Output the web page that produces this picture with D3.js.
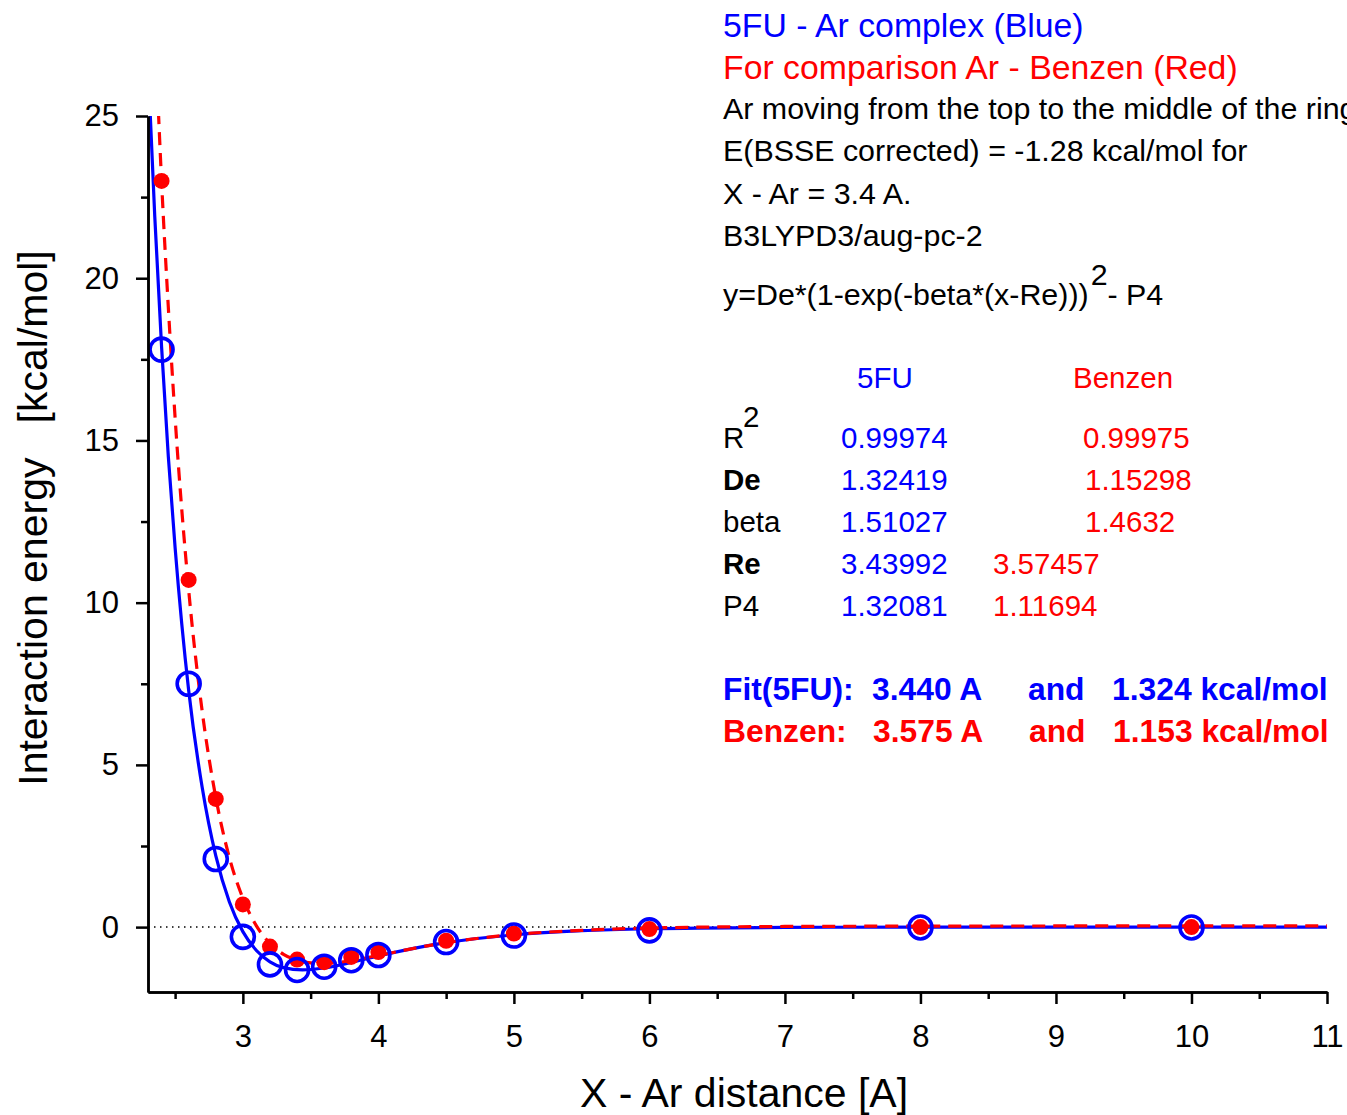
<!DOCTYPE html>
<html>
<head>
<meta charset="utf-8">
<script src="https://cdn.jsdelivr.net/npm/d3@7"></script>
<style>
  body { margin: 0; background: #fff; }
  svg { display: block; font-family: "Liberation Sans", Arial, sans-serif; }
</style>
</head>
<body>
<script>
// Size and margins
const w = 1347;
const h = 1115;
const padding = { top: 116, bottom: 123, right: 20, left: 148 };

// Computed points: 5FU - Ar (blue, open circles)
const distBlue = [2.4, 2.6, 2.8, 3.0, 3.2, 3.4, 3.6, 3.8, 4.0, 4.5, 5.0, 6.0, 8.0, 10.0];
const energyBlue = [17.8, 7.5, 2.1, -0.3, -1.15, -1.32, -1.22, -1.02, -0.86, -0.46, -0.26, -0.1, -0.01, -0.01];

// Computed points: Ar - Benzen (red, filled)
const distRed = [2.4, 2.6, 2.8, 3.0, 3.2, 3.4, 3.6, 3.8, 4.0, 4.5, 5.0, 6.0, 8.0, 10.0];
const energyRed = [23.0, 10.7, 3.95, 0.7, -0.6, -1.0, -1.08, -0.92, -0.77, -0.42, -0.2, -0.06, 0.0, 0.0];

// Fitted curves
const fitDistBlue = [2.3, 2.35, 2.4, 2.45, 2.5, 2.6, 2.7, 2.8, 2.9, 3.0, 3.1, 3.2, 3.3, 3.44, 3.6, 3.8, 4.0, 4.5, 5.0, 5.5, 6.0, 7.0, 8.0, 11.0];
const fitEnergyBlue = [26.6, 21.9, 17.9, 14.5, 11.7, 7.3, 4.3, 2.2, 0.78, -0.14, -0.72, -1.07, -1.25, -1.32, -1.26, -1.09, -0.89, -0.48, -0.24, -0.11, -0.05, -0.01, 0.0, 0.0];
const fitDistRed = [2.37, 2.4, 2.45, 2.5, 2.6, 2.7, 2.8, 2.9, 3.0, 3.1, 3.2, 3.3, 3.4, 3.5, 3.575, 3.7, 3.8, 4.0, 4.5, 5.0, 5.5, 6.0, 7.0, 8.0, 11.0];
const fitEnergyRed = [25.8, 23.0, 19.1, 15.7, 10.4, 6.65, 4.0, 2.15, 0.89, 0.04, -0.5, -0.84, -1.02, -1.1, -1.12, -1.09, -1.03, -0.87, -0.48, -0.23, -0.1, -0.03, 0.02, 0.03, 0.04];

// Tick values
const xMajor = [3, 4, 5, 6, 7, 8, 9, 10, 11];
const xMinor = [2.5, 3.5, 4.5, 5.5, 6.5, 7.5, 8.5, 9.5, 10.5];
const yMajor = [0, 5, 10, 15, 20, 25];
const yMinor = [2.5, 7.5, 12.5, 17.5, 22.5];

const BLUE = "#0000ff";
const RED = "#ff0000";

const svg = d3.select("body").append("svg").attr("width", w).attr("height", h);

const xScale = d3.scaleLinear().domain([2.3, 11]).range([padding.left, w - padding.right]);
const yScale = d3.scaleLinear().domain([-2, 25]).range([h - padding.bottom, padding.top]);

svg.append("defs").append("clipPath").attr("id", "plot-clip")
  .append("rect")
  .attr("x", padding.left)
  .attr("y", padding.top)
  .attr("width", w - padding.right - padding.left)
  .attr("height", h - padding.bottom - padding.top);

// Zero line (dotted)
svg.append("line")
  .attr("x1", xScale(2.3)).attr("x2", xScale(11))
  .attr("y1", yScale(0)).attr("y2", yScale(0))
  .attr("stroke", "#000").attr("stroke-width", 1.5)
  .attr("stroke-dasharray", "1.5,4.5");

const plot = svg.append("g").attr("clip-path", "url(#plot-clip)");

const line = d3.line()
  .x((d) => xScale(d[0]))
  .y((d) => yScale(d[1]))
  .curve(d3.curveMonotoneX);

plot.append("path")
  .datum(fitDistBlue.map((x, i) => [x, fitEnergyBlue[i]]))
  .attr("fill", "none").attr("stroke", BLUE).attr("stroke-width", 3.2)
  .attr("d", line);

plot.append("path")
  .datum(fitDistRed.map((x, i) => [x, fitEnergyRed[i]]))
  .attr("fill", "none").attr("stroke", RED).attr("stroke-width", 3.2)
  .attr("stroke-dasharray", "13,8")
  .attr("d", line);

// Red filled points
svg.selectAll(".dot-red")
  .data(distRed.map((x, i) => [x, energyRed[i]]))
  .enter()
  .append("circle")
  .attr("class", "dot-red")
  .attr("cx", (d) => xScale(d[0]))
  .attr("cy", (d) => yScale(d[1]))
  .attr("r", 8)
  .attr("fill", RED);

// Blue open points
svg.selectAll(".dot-blue")
  .data(distBlue.map((x, i) => [x, energyBlue[i]]))
  .enter()
  .append("circle")
  .attr("class", "dot-blue")
  .attr("cx", (d) => xScale(d[0]))
  .attr("cy", (d) => yScale(d[1]))
  .attr("r", 11.5)
  .attr("fill", "none")
  .attr("stroke", BLUE)
  .attr("stroke-width", 3.6);

// Axes
function styleAxis(g) {
  g.select(".domain").attr("stroke", "#000").attr("stroke-width", 2.5);
  g.selectAll(".tick line").attr("stroke", "#000").attr("stroke-width", 2.5);
  g.selectAll(".tick text").attr("fill", "#000").style("font-size", "31px")
    .style("font-family", "'Liberation Sans', Arial, sans-serif");
}

const xMinorAxis = d3.axisBottom(xScale).tickValues(xMinor).tickSize(7).tickFormat("").tickSizeOuter(0);
svg.append("g")
  .attr("transform", `translate(0, ${h - padding.bottom})`)
  .call(xMinorAxis)
  .call(styleAxis);

const xAxis = d3.axisBottom(xScale).tickValues(xMajor).tickSize(12).tickPadding(21).tickSizeOuter(0);
svg.append("g")
  .attr("id", "x-axis")
  .attr("transform", `translate(0, ${h - padding.bottom})`)
  .call(xAxis)
  .call(styleAxis);

const yMinorAxis = d3.axisLeft(yScale).tickValues(yMinor).tickSize(7).tickFormat("").tickSizeOuter(0);
svg.append("g")
  .attr("transform", `translate(${padding.left}, 0)`)
  .call(yMinorAxis)
  .call(styleAxis);

const yAxis = d3.axisLeft(yScale).tickValues(yMajor).tickSize(12).tickPadding(17).tickSizeOuter(0);
svg.append("g")
  .attr("id", "y-axis")
  .attr("transform", `translate(${padding.left}, 0)`)
  .call(yAxis)
  .call(styleAxis);

// Axis titles
svg.append("text")
  .attr("x", 744).attr("y", 1107)
  .attr("text-anchor", "middle")
  .style("font-size", "41px")
  .text("X - Ar distance [A]");

svg.append("text")
  .attr("transform", "translate(47, 518) rotate(-90)")
  .attr("text-anchor", "middle")
  .style("font-size", "41px")
  .style("white-space", "pre")
  .text("Interaction energy   [kcal/mol]");

// Annotation text
const notes = svg.append("g");

notes.append("text").attr("x", 723).attr("y", 37).attr("fill", BLUE)
  .style("font-size", "33.8px").text("5FU - Ar complex (Blue)");
notes.append("text").attr("x", 723).attr("y", 79).attr("fill", RED)
  .style("font-size", "33.8px").text("For comparison Ar - Benzen (Red)");

const infoLines = [
  "Ar moving from the top to the middle of the ring",
  "E(BSSE corrected) = -1.28 kcal/mol for",
  "X - Ar = 3.4 A.",
  "B3LYPD3/aug-pc-2",
];
infoLines.forEach((t, i) => {
  notes.append("text").attr("x", 723).attr("y", 119 + i * 42.3)
    .style("font-size", "30.4px").text(t);
});

const formula = notes.append("text").attr("x", 723).attr("y", 305)
  .style("font-size", "30.4px");
formula.append("tspan").text("y=De*(1-exp(-beta*(x-Re)))");
formula.append("tspan").attr("dy", -20).attr("dx", 2).text("2");
formula.append("tspan").attr("dy", 20).text("- P4");

// Fit parameter table
notes.append("text").attr("x", 857).attr("y", 388).attr("fill", BLUE)
  .style("font-size", "29.5px").text("5FU");
notes.append("text").attr("x", 1073).attr("y", 388).attr("fill", RED)
  .style("font-size", "29.5px").text("Benzen");

const paramNames = ["R", "De", "beta", "Re", "P4"];
const paramBold = [false, true, false, true, false];
const paramBlue = ["0.99974", "1.32419", "1.51027", "3.43992", "1.32081"];
const paramRed = ["0.99975", "1.15298", "1.4632", "3.57457", "1.11694"];
const paramRedX = [1083, 1085, 1085, 993, 993];

paramNames.forEach((name, i) => {
  const yy = 448 + i * 42;
  notes.append("text").attr("x", 723).attr("y", yy)
    .style("font-size", "29.5px")
    .style("font-weight", paramBold[i] ? "bold" : "normal")
    .text(name);
  notes.append("text").attr("x", 841).attr("y", yy).attr("fill", BLUE)
    .style("font-size", "29.5px").text(paramBlue[i]);
  notes.append("text").attr("x", paramRedX[i]).attr("y", yy).attr("fill", RED)
    .style("font-size", "29.5px").text(paramRed[i]);
});
notes.append("text").attr("x", 743).attr("y", 427)
  .style("font-size", "29.5px").text("2");

// Summary lines
const summary = [
  { color: BLUE, y: 700, parts: ["Fit(5FU):", "3.440 A", "and", "1.324 kcal/mol"], xs: [723, 872, 1028, 1112] },
  { color: RED, y: 742, parts: ["Benzen:", "3.575 A", "and", "1.153 kcal/mol"], xs: [723, 873, 1029, 1113] },
];
summary.forEach((row) => {
  row.parts.forEach((p, j) => {
    notes.append("text").attr("x", row.xs[j]).attr("y", row.y)
      .attr("fill", row.color)
      .style("font-size", "31.8px").style("font-weight", "bold")
      .text(p);
  });
});
</script>
</body>
</html>
